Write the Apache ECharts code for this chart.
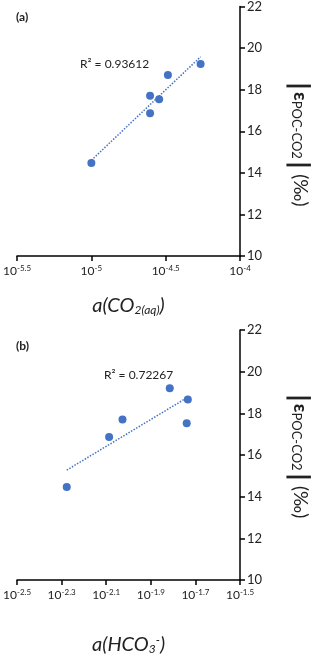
<!DOCTYPE html>
<html>
<head>
<meta charset="utf-8">
<script src="https://cdn.jsdelivr.net/npm/echarts@6/dist/echarts.min.js"></script>
<style>
  html, body { margin: 0; padding: 0; background: #fff; }
  #chart { width: 320px; height: 656px; }
</style>
</head>
<body>
<div id="chart"></div>
<script>
// log10 activities
const logCO2 = [-5.0, -4.605, -4.605, -4.544, -4.485, -4.265];
const logHCO3 = [-2.277, -2.087, -2.027, -1.815, -1.734, -1.739];
// |eps POC-CO2| (permil), same samples for both panels
const epsA = [14.47, 17.71, 16.87, 17.54, 18.70, 19.24];
const epsB = [14.47, 16.86, 17.70, 19.20, 18.67, 17.53];
const r2Labels = ['R\u00b2 = 0.93612', 'R\u00b2 = 0.72267'];

const blue = '#4472C4';
const font = 'Lato, "Noto Sans", sans-serif';

// least squares trendline across the data x-range
function trend(xs, ys) {
  const n = xs.length;
  const mx = xs.reduce((a, b) => a + b, 0) / n;
  const my = ys.reduce((a, b) => a + b, 0) / n;
  let sxy = 0, sxx = 0;
  for (let i = 0; i < n; i++) {
    sxy += (xs[i] - mx) * (ys[i] - my);
    sxx += (xs[i] - mx) * (xs[i] - mx);
  }
  const k = sxy / sxx, b = my - k * mx;
  const x0 = Math.min(...xs), x1 = Math.max(...xs);
  return [[x0, k * x0 + b], [x1, k * x1 + b]];
}

function pairs(xs, ys) { return xs.map((x, i) => [x, ys[i]]); }

const powLabel = {
  formatter: v => '{b|10}{s|' + parseFloat(v.toFixed(1)) + '}',
  margin: 8,
  rich: {
    b: { fontSize: 12, fontFamily: font, color: '#222' },
    s: { fontSize: 8, fontFamily: font, color: '#222', padding: [0, 0, 7, 0] }
  }
};

function xAxis(grid, min, max, interval, name, gap) {
  return {
    gridIndex: grid, type: 'value', min: min, max: max, interval: interval,
    axisLine: { onZero: false, lineStyle: { color: '#000', width: 1.5 } },
    axisTick: { length: 5, lineStyle: { color: '#000', width: 1.5 } },
    splitLine: { show: false },
    axisLabel: powLabel,
    name: name, nameLocation: 'middle', nameGap: gap,
    nameTextStyle: {
      rich: {
        i: { fontSize: 20, fontStyle: 'italic', fontFamily: font, color: '#222' },
        s: { fontSize: 12, fontStyle: 'italic', fontFamily: font, color: '#222', padding: [8, 0, 0, 0] },
        u: { fontSize: 12, fontStyle: 'italic', fontFamily: font, color: '#222', padding: [0, 0, 10, 0] }
      }
    }
  };
}

function yAxis(grid, shift) {
  return {
    gridIndex: grid, type: 'value', position: 'right', min: 10, max: 22, interval: 2,
    axisLine: { show: true, onZero: false, lineStyle: { color: '#000', width: 1.5 } },
    axisTick: { show: true, length: 5, lineStyle: { color: '#000', width: 1.5 } },
    splitLine: { show: false },
    axisLabel: { fontSize: 13, fontFamily: font, color: '#222', margin: 7 },
    name: '{bar|\u2223}{e|\u03b5}{sub|POC-CO2}{bar|\u2223} {p|(\u2030)}',
    nameLocation: 'middle', nameRotate: -90, nameGap: 48,
    nameTextStyle: {
      padding: [0, 0, 0, shift],
      rich: {
        bar: { fontSize: 24, fontWeight: 'bold', fontFamily: font, color: '#222' },
        e: { fontSize: 19, fontWeight: 'bold', fontFamily: font, color: '#222' },
        sub: { fontSize: 13, fontFamily: font, color: '#222', padding: [8, 0, 0, 0] },
        p: { fontSize: 19, fontFamily: font, color: '#222' }
      }
    }
  };
}

function scatter(i, data) {
  return {
    type: 'scatter', xAxisIndex: i, yAxisIndex: i, data: data,
    symbolSize: 8, itemStyle: { color: blue, opacity: 1 }, z: 3
  };
}

function trendLine(i, data) {
  return {
    type: 'line', xAxisIndex: i, yAxisIndex: i, data: data,
    symbol: 'none', silent: true,
    lineStyle: { color: blue, width: 1.5, type: [1.5, 1.5] }, z: 2
  };
}

const chart = echarts.init(document.getElementById('chart'));
chart.setOption({
  animation: false,
  grid: [
    { left: 16, top: 6, width: 238, height: 250 },
    { left: 16, top: 330, width: 234, height: 257 }
  ],
  xAxis: [
    xAxis(0, -5.5, -4, 0.5, '{i|a(CO}{s|2(aq)}{i|)}', 40),
    xAxis(1, -2.5, -1.5, 0.2, '{i|a(HCO}{s|3}{u|-}{i|)}', 54)
  ],
  yAxis: [yAxis(0, 24), yAxis(1, 0)],
  series: [
    scatter(0, pairs(logCO2, epsA)),
    trendLine(0, trend(logCO2, epsA)),
    scatter(1, pairs(logHCO3, epsB)),
    trendLine(1, trend(logHCO3, epsB))
  ],
  graphic: [
    { type: 'text', left: 16, top: 11, style: { text: '(a)', font: 'bold 12px ' + font, fill: '#222' } },
    { type: 'text', left: 16, top: 340, style: { text: '(b)', font: 'bold 12px ' + font, fill: '#222' } },
    { type: 'text', left: 80, top: 58, style: { text: r2Labels[0], font: '12px ' + font, fill: '#222' } },
    { type: 'text', left: 104, top: 369, style: { text: r2Labels[1], font: '12px ' + font, fill: '#222' } }
  ]
});
</script>
</body>
</html>
